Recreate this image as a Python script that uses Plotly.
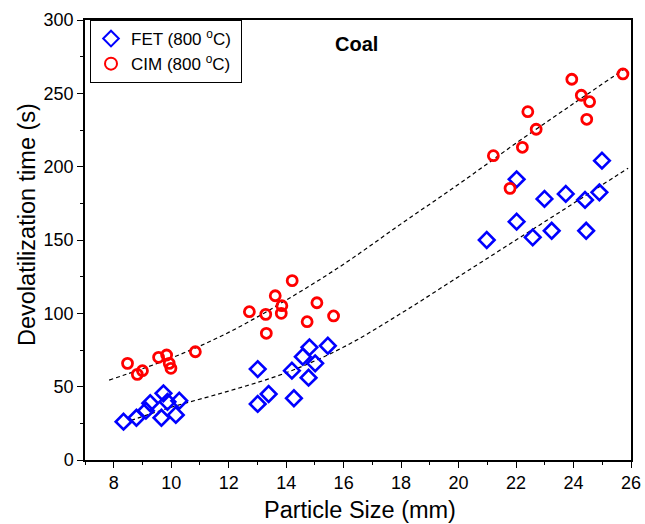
import plotly.graph_objects as go

# FET measurements at 800 oC: particle size (mm) and devolatilization time (s)
fet_size = [8.34, 8.79, 9.12, 9.27, 9.73, 9.66, 9.87, 10.16, 10.28,
            14.81, 15.45, 14.58, 15.01, 13.01, 14.20, 14.78, 13.39, 13.01, 14.27,
            24.99, 22.02, 22.99, 23.73, 24.40, 24.90, 22.02, 22.58, 23.24, 24.44, 20.98]
fet_time = [26.1, 28.8, 33.6, 38.7, 45.5, 28.8, 39.7, 30.7, 40.4,
            76.8, 77.9, 70.4, 65.9, 62.0, 60.9, 56.1, 45.0, 38.2, 42.1,
            204.1, 191.4, 178.0, 181.4, 177.3, 182.5, 162.5, 151.8, 156.3, 156.3, 150.0]

# CIM measurements at 800 oC
cim_size = [8.48, 8.82, 9.00, 9.56, 9.84, 9.93, 9.99, 10.84,
            14.21, 13.62, 13.85, 12.72, 13.29, 13.83, 15.07, 15.65, 14.73, 13.31,
            25.72, 23.94, 24.27, 24.56, 22.41, 24.46, 22.70, 22.22, 21.21, 21.79]
cim_time = [65.9, 58.4, 60.9, 70.0, 71.6, 65.9, 62.5, 73.8,
            122.3, 112.0, 105.2, 101.1, 99.3, 100.0, 107.2, 98.2, 94.3, 86.4,
            263.2, 259.6, 248.7, 244.3, 237.5, 232.3, 225.5, 213.2, 207.5, 185.2]

# Fitted trend curves (size in mm, time in s)
fet_fit_size = [8.6, 10, 12, 14, 16, 18, 20, 22, 24, 25.9]
fet_fit_time = [27, 36, 47, 59.5, 77, 100, 125, 150, 175, 199]
cim_fit_size = [7.84, 10, 12, 14, 16, 18, 20, 22, 24, 25.8]
cim_fit_time = [54.5, 69.5, 87, 109, 133.5, 161, 188, 216, 243, 267]

x_ticks = [8, 10, 12, 14, 16, 18, 20, 22, 24, 26]
y_ticks = [0, 50, 100, 150, 200, 250, 300]

FONT = "Liberation Sans, Arial, sans-serif"

# plot-area geometry in pixels
W, H = 645, 524
ML, MR, MT, MB = 85, 14, 20, 64
PW, PH = W - ML - MR, H - MT - MB


def px_x(p):
    return (p - ML) / PW


def px_y(p):
    return 1 - (p - MT) / PH


fig = go.Figure()

for fx, fy in [(fet_fit_size, fet_fit_time), (cim_fit_size, cim_fit_time)]:
    fig.add_trace(go.Scatter(x=fx, y=fy, mode="lines", showlegend=False, hoverinfo="skip",
                             line=dict(color="black", width=1.2, dash="4px,3px", shape="spline")))

fig.add_trace(go.Scatter(
    x=fet_size, y=fet_time, mode="markers", name="FET (800 <sup>o</sup>C) ",
    marker=dict(symbol="diamond-open", size=12, color="#0000ff", line=dict(width=2.6, color="#0000ff"))))
fig.add_trace(go.Scatter(
    x=cim_size, y=cim_time, mode="markers", name="CIM (800 <sup>o</sup>C) ",
    marker=dict(symbol="circle-open", size=10, color="#ff0000", line=dict(width=2.8, color="#ff0000"))))

axis_common = dict(
    showgrid=False, zeroline=False, showline=True, linecolor="black", linewidth=1.5,
    mirror=True, ticks="outside", ticklen=6, tickwidth=1.2, tickcolor="black",
    tickfont=dict(family=FONT, size=18, color="black"), automargin=False,
)

fig.update_xaxes(range=[7, 26], tickvals=x_ticks,
                 minor=dict(dtick=1, ticks="outside", ticklen=3.5, tickcolor="black", tickwidth=1.2),
                 **axis_common)
fig.update_yaxes(range=[0, 300], tickvals=y_ticks,
                 minor=dict(dtick=25, ticks="outside", ticklen=3.5, tickcolor="black", tickwidth=1.2),
                 **axis_common)

title_font = dict(family=FONT, size=23.5, color="black")

fig.update_layout(
    width=W, height=H,
    margin=dict(l=ML, r=MR, t=MT, b=MB),
    paper_bgcolor="white", plot_bgcolor="white",
    font=dict(family=FONT, color="black"),
    showlegend=True,
    legend=dict(x=px_x(90), y=px_y(20), xanchor="left", yanchor="top",
                bordercolor="black", borderwidth=1, bgcolor="white",
                font=dict(family=FONT, size=17, color="black"), itemsizing="constant",
                tracegroupgap=0),
    annotations=[
        dict(text="<b>Coal</b>", x=px_x(356), y=px_y(44),
             xref="paper", yref="paper", xanchor="center", yanchor="middle",
             showarrow=False, font=dict(family=FONT, size=20, color="black")),
        # axis titles
        dict(text="Particle Size (mm)", x=px_x(360), y=px_y(510),
             xref="paper", yref="paper", xanchor="center", yanchor="middle",
             showarrow=False, font=title_font),
        dict(text="Devolatilization time (s)", x=px_x(27), y=px_y(225), textangle=-90,
             xref="paper", yref="paper", xanchor="center", yanchor="middle",
             showarrow=False, font=title_font),
    ],
)

fig.write_html("out.html")
